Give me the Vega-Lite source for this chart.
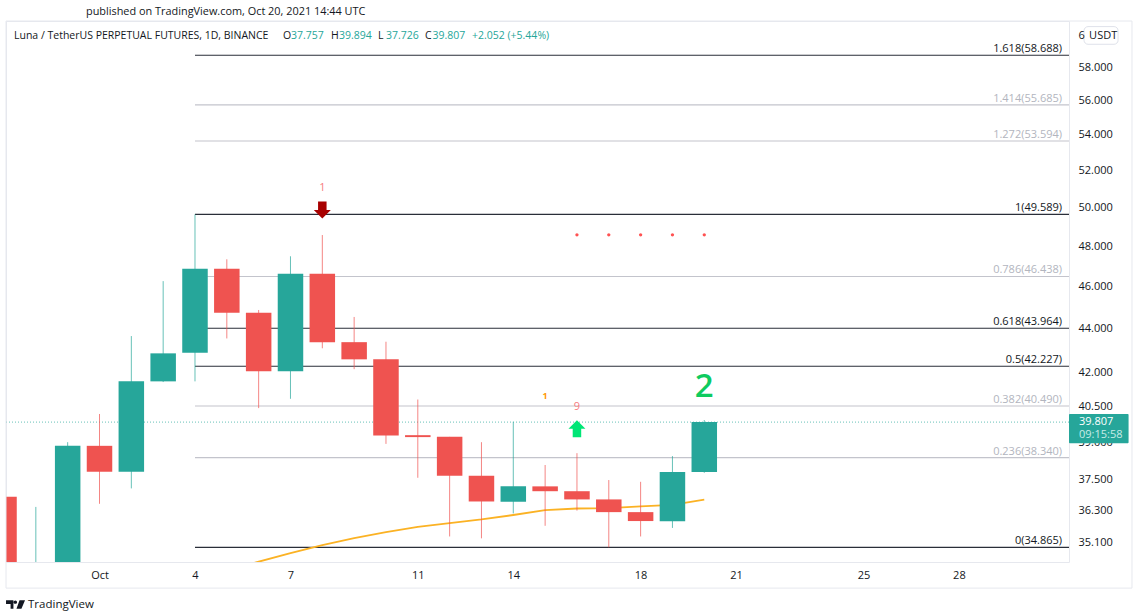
{
"$schema":"https://vega.github.io/schema/vega-lite/v6.json",
"width":1063,"height":541,
"autosize":{"type":"none"},
"padding":{"left":6,"top":21,"right":67,"bottom":52},
"background":"#ffffff",
"title":{"text":"published on TradingView.com, Oct 20, 2021 14:44 UTC","anchor":"start","frame":"group","dx":80,"offset":4,"fontSize":10.9,"fontWeight":"normal","color":"#131722","font":"Open Sans"},
"config":{"font":"Open Sans","view":{"stroke":"#e6e8ee","strokeWidth":1}},
"datasets":{
"candles":[
{"date":"2021-09-28T00:00:00Z","open":36.78,"close":33.9,"high":36.78,"low":33.5,"dir":"down"},
{"date":"2021-09-29T00:00:00Z","open":33.9,"close":34.2,"high":36.39,"low":33.5,"dir":"up"},
{"date":"2021-09-30T00:00:00Z","open":34.2,"close":38.82,"high":38.97,"low":34.0,"dir":"up"},
{"date":"2021-10-01T00:00:00Z","open":38.82,"close":37.77,"high":40.15,"low":36.51,"dir":"down"},
{"date":"2021-10-02T00:00:00Z","open":37.77,"close":41.56,"high":43.6,"low":37.11,"dir":"up"},
{"date":"2021-10-03T00:00:00Z","open":41.56,"close":42.81,"high":46.21,"low":41.53,"dir":"up"},
{"date":"2021-10-04T00:00:00Z","open":42.84,"close":46.82,"high":49.589,"low":41.56,"dir":"up"},
{"date":"2021-10-05T00:00:00Z","open":46.82,"close":44.69,"high":47.29,"low":43.49,"dir":"down"},
{"date":"2021-10-06T00:00:00Z","open":44.69,"close":42.01,"high":44.82,"low":40.4,"dir":"down"},
{"date":"2021-10-07T00:00:00Z","open":42.01,"close":46.57,"high":47.44,"low":40.8,"dir":"up"},
{"date":"2021-10-08T00:00:00Z","open":46.57,"close":43.32,"high":48.52,"low":43.04,"dir":"down"},
{"date":"2021-10-09T00:00:00Z","open":43.32,"close":42.54,"high":44.49,"low":42.1,"dir":"down"},
{"date":"2021-10-10T00:00:00Z","open":42.54,"close":39.25,"high":43.34,"low":38.9,"dir":"down"},
{"date":"2021-10-11T00:00:00Z","open":39.26,"close":39.18,"high":40.77,"low":37.53,"dir":"down"},
{"date":"2021-10-12T00:00:00Z","open":39.19,"close":37.61,"high":39.19,"low":35.27,"dir":"down"},
{"date":"2021-10-13T00:00:00Z","open":37.61,"close":36.6,"high":38.97,"low":35.2,"dir":"down"},
{"date":"2021-10-14T00:00:00Z","open":36.59,"close":37.19,"high":39.82,"low":36.14,"dir":"up"},
{"date":"2021-10-15T00:00:00Z","open":37.19,"close":37.0,"high":38.04,"low":35.67,"dir":"down"},
{"date":"2021-10-16T00:00:00Z","open":37.0,"close":36.68,"high":38.52,"low":36.25,"dir":"down"},
{"date":"2021-10-17T00:00:00Z","open":36.68,"close":36.19,"high":37.44,"low":34.865,"dir":"down"},
{"date":"2021-10-18T00:00:00Z","open":36.19,"close":35.85,"high":37.37,"low":35.27,"dir":"down"},
{"date":"2021-10-19T00:00:00Z","open":35.84,"close":37.757,"high":38.4,"low":35.59,"dir":"up"},
{"date":"2021-10-20T00:00:00Z","open":37.757,"close":39.807,"high":39.894,"low":37.726,"dir":"up"}
],
"ma":[
{"date":"2021-10-05T00:00:00Z","price":34.04},
{"date":"2021-10-06T00:00:00Z","price":34.34},
{"date":"2021-10-07T00:00:00Z","price":34.65},
{"date":"2021-10-08T00:00:00Z","price":34.95},
{"date":"2021-10-09T00:00:00Z","price":35.21},
{"date":"2021-10-10T00:00:00Z","price":35.43},
{"date":"2021-10-11T00:00:00Z","price":35.63},
{"date":"2021-10-12T00:00:00Z","price":35.77},
{"date":"2021-10-13T00:00:00Z","price":35.91},
{"date":"2021-10-14T00:00:00Z","price":36.08},
{"date":"2021-10-15T00:00:00Z","price":36.27},
{"date":"2021-10-16T00:00:00Z","price":36.33},
{"date":"2021-10-17T00:00:00Z","price":36.34},
{"date":"2021-10-18T00:00:00Z","price":36.41},
{"date":"2021-10-19T00:00:00Z","price":36.47},
{"date":"2021-10-20T00:00:00Z","price":36.67}
],
"fib":[
{"date":"2021-10-04T00:00:00Z","to":"2021-10-31T11:00:00Z","price":58.688,"label":"1.618(58.688)","tier":"major"},
{"date":"2021-10-04T00:00:00Z","to":"2021-10-31T11:00:00Z","price":55.685,"label":"1.414(55.685)","tier":"minor"},
{"date":"2021-10-04T00:00:00Z","to":"2021-10-31T11:00:00Z","price":53.594,"label":"1.272(53.594)","tier":"minor"},
{"date":"2021-10-04T00:00:00Z","to":"2021-10-31T11:00:00Z","price":49.589,"label":"1(49.589)","tier":"major"},
{"date":"2021-10-04T00:00:00Z","to":"2021-10-31T11:00:00Z","price":46.438,"label":"0.786(46.438)","tier":"minor"},
{"date":"2021-10-04T00:00:00Z","to":"2021-10-31T11:00:00Z","price":43.964,"label":"0.618(43.964)","tier":"major"},
{"date":"2021-10-04T00:00:00Z","to":"2021-10-31T11:00:00Z","price":42.227,"label":"0.5(42.227)","tier":"major"},
{"date":"2021-10-04T00:00:00Z","to":"2021-10-31T11:00:00Z","price":40.49,"label":"0.382(40.490)","tier":"minor"},
{"date":"2021-10-04T00:00:00Z","to":"2021-10-31T11:00:00Z","price":38.34,"label":"0.236(38.340)","tier":"minor"},
{"date":"2021-10-04T00:00:00Z","to":"2021-10-31T11:00:00Z","price":34.865,"label":"0(34.865)","tier":"major"}
],
"header":[
{"date":"2021-09-28T07:30:00Z","price":59.96,"text":"Luna / TetherUS PERPETUAL FUTURES, 1D, BINANCE","kind":"label"},
{"date":"2021-10-06T18:22:00Z","price":59.96,"text":"O","kind":"label"},
{"date":"2021-10-07T00:23:00Z","price":59.96,"text":"37.757","kind":"value"},
{"date":"2021-10-08T06:33:00Z","price":59.96,"text":"H","kind":"label"},
{"date":"2021-10-08T12:34:00Z","price":59.96,"text":"39.894","kind":"value"},
{"date":"2021-10-09T17:58:00Z","price":59.96,"text":"L","kind":"label"},
{"date":"2021-10-10T00:00:00Z","price":59.96,"text":"37.726","kind":"value"},
{"date":"2021-10-11T05:25:00Z","price":59.96,"text":"C","kind":"label"},
{"date":"2021-10-11T11:05:00Z","price":59.96,"text":"39.807","kind":"value"},
{"date":"2021-10-12T16:52:00Z","price":59.96,"text":"+2.052 (+5.44%)","kind":"value"}
],
"corner":[
{"date":"2021-10-31T18:14:00Z","price":59.96,"text":"6"},
{"date":"2021-11-01T02:10:00Z","price":59.96,"text":"USDT"}
],
"dots":[
{"date":"2021-10-16T00:00:00Z","price":48.53},
{"date":"2021-10-17T00:00:00Z","price":48.53},
{"date":"2021-10-18T00:00:00Z","price":48.53},
{"date":"2021-10-19T00:00:00Z","price":48.53},
{"date":"2021-10-20T00:00:00Z","price":48.53}
]
},
"resolve":{"scale":{"color":"independent"}},
"layer":[
{"data":{"name":"fib"},
 "mark":{"type":"rule","strokeWidth":1.1},
 "encoding":{
  "x":{"field":"date","type":"temporal","title":null,
   "scale":{"type":"utc","domain":["2021-09-28T01:30:00Z","2021-10-31T11:00:00Z"],"nice":false,"padding":0},
   "axis":{"orient":"bottom","domain":false,"ticks":false,"grid":false,"labelPadding":7,"labelFontSize":11,"labelColor":"#131722","labelFont":"Open Sans","labelOverlap":false,"labelBound":false,"labelFlush":false,
    "values":["2021-10-01T00:00:00Z","2021-10-04T00:00:00Z","2021-10-07T00:00:00Z","2021-10-11T00:00:00Z","2021-10-14T00:00:00Z","2021-10-18T00:00:00Z","2021-10-21T00:00:00Z","2021-10-25T00:00:00Z","2021-10-28T00:00:00Z"],
    "labelExpr":"utcdate(datum.value)==1 ? 'Oct' : ''+utcdate(datum.value)"}},
  "x2":{"field":"to"},
  "y":{"field":"price","type":"quantitative","title":null,
   "scale":{"type":"log","domain":[34.33,60.85],"nice":false,"zero":false},
   "axis":{"orient":"right","domain":false,"ticks":false,"grid":false,"labelPadding":9,"labelOffset":1,"labelFontSize":11,"labelColor":"#131722","labelFont":"Open Sans","labelOverlap":false,"labelBound":false,"labelFlush":false,"format":".3f",
    "values":[35.1,36.3,37.5,39,40.5,42,44,46,48,50,52,54,56,58]}},
  "color":{"field":"tier","type":"nominal","legend":null,"scale":{"domain":["major","minor"],"range":["#2a2e39","#c3c4cc"]}}
 }},
{"data":{"name":"fib"},
 "mark":{"type":"text","align":"right","baseline":"bottom","dx":-7,"dy":-1,"fontSize":11},
 "encoding":{
  "x":{"field":"to","type":"temporal"},
  "y":{"field":"price","type":"quantitative"},
  "text":{"field":"label"},
  "color":{"field":"tier","type":"nominal","legend":null,"scale":{"domain":["major","minor"],"range":["#131722","#b2b5be"]}}
 }},
{"data":{"values":[{"date":"2021-09-28T01:30:00Z","to":"2021-10-31T11:00:00Z","price":39.807}]},
 "mark":{"type":"rule","strokeWidth":1,"strokeDash":[1,2],"color":"#26a69a","opacity":0.7},
 "encoding":{
  "x":{"field":"date","type":"temporal"},
  "x2":{"field":"to"},
  "y":{"field":"price","type":"quantitative"}
 }},
{"data":{"name":"ma"},
 "mark":{"type":"line","color":"#fbb224","strokeWidth":1.8,"clip":true,"interpolate":"linear"},
 "encoding":{
  "x":{"field":"date","type":"temporal"},
  "y":{"field":"price","type":"quantitative"}
 }},
{"data":{"name":"candles"},
 "mark":{"type":"rule","strokeWidth":1,"clip":true,"opacity":0.7},
 "encoding":{
  "x":{"field":"date","type":"temporal"},
  "y":{"field":"high","type":"quantitative"},
  "y2":{"field":"low"},
  "color":{"field":"dir","type":"nominal","legend":null,"scale":{"domain":["up","down"],"range":["#26a69a","#ef5350"]}}
 }},
{"data":{"name":"candles"},
 "mark":{"type":"bar","size":25.5,"clip":true},
 "encoding":{
  "x":{"field":"date","type":"temporal"},
  "y":{"field":"open","type":"quantitative"},
  "y2":{"field":"close"},
  "color":{"field":"dir","type":"nominal","legend":null,"scale":{"domain":["up","down"],"range":["#26a69a","#ef5350"]}}
 }},
{"data":{"values":[{"date":"2021-10-08T00:00:00Z","price":49.82}]},
 "mark":{"type":"point","filled":true,"color":"#a80000","opacity":1,"size":289,"shape":"M-0.5,-1 L0.5,-1 L0.5,0 L1,0 L0,1 L-1,0 L-0.5,0 Z"},
 "encoding":{
  "x":{"field":"date","type":"temporal"},
  "y":{"field":"price","type":"quantitative"}
 }},
{"data":{"values":[{"date":"2021-10-16T00:00:00Z","price":39.53}]},
 "mark":{"type":"point","filled":true,"color":"#00e676","opacity":1,"size":289,"shape":"M0,-1 L1,0 L0.5,0 L0.5,1 L-0.5,1 L-0.5,0 L-1,0 Z"},
 "encoding":{
  "x":{"field":"date","type":"temporal"},
  "y":{"field":"price","type":"quantitative"}
 }},
{"data":{"values":[{"date":"2021-10-08T00:00:00Z","price":50.98,"text":"1"},{"date":"2021-10-16T00:00:00Z","price":40.46,"text":"9"}]},
 "mark":{"type":"text","fontSize":11,"color":"#f77c80","baseline":"middle"},
 "encoding":{
  "x":{"field":"date","type":"temporal"},
  "y":{"field":"price","type":"quantitative"},
  "text":{"field":"text"}
 }},
{"data":{"values":[{"date":"2021-10-15T00:00:00Z","price":40.93,"text":"1"}]},
 "mark":{"type":"text","fontSize":9,"fontWeight":"bold","color":"#ff9800","baseline":"middle"},
 "encoding":{
  "x":{"field":"date","type":"temporal"},
  "y":{"field":"price","type":"quantitative"},
  "text":{"field":"text"}
 }},
{"data":{"values":[{"date":"2021-10-20T00:00:00Z","price":41.32,"text":"2"}]},
 "mark":{"type":"text","fontSize":33,"fontWeight":600,"color":"#0ecb5f","baseline":"middle"},
 "encoding":{
  "x":{"field":"date","type":"temporal"},
  "y":{"field":"price","type":"quantitative"},
  "text":{"field":"text"}
 }},
{"data":{"name":"dots"},
 "mark":{"type":"circle","size":11,"color":"#ff5252","opacity":1},
 "encoding":{
  "x":{"field":"date","type":"temporal"},
  "y":{"field":"price","type":"quantitative"}
 }},
{"data":{"values":[{"date":"2021-09-28T01:30:00Z","to":"2021-11-02T10:30:00Z","price":60.85,"low":33.395}]},
 "mark":{"type":"rect","fill":null,"fillOpacity":0,"stroke":"#e6e8ee","strokeWidth":1},
 "encoding":{
  "x":{"field":"date","type":"temporal"},
  "x2":{"field":"to"},
  "y":{"field":"price","type":"quantitative"},
  "y2":{"field":"low"}
 }},
{"data":{"values":[{"date":"2021-10-31T11:00:00Z","to":"2021-11-02T07:55:00Z","price":40.15,"low":38.93}]},
 "mark":{"type":"rect","color":"#26a69a","opacity":1,"cornerRadius":1},
 "encoding":{
  "x":{"field":"date","type":"temporal"},
  "x2":{"field":"to"},
  "y":{"field":"price","type":"quantitative"},
  "y2":{"field":"low"}
 }},
{"data":{"values":[{"date":"2021-10-31T22:20:00Z","to":"2021-11-02T00:00:00Z","price":60.49,"low":59.37}]},
 "mark":{"type":"rect","fill":"#ffffff","stroke":"#dfe2ea","strokeWidth":1,"cornerRadius":4,"opacity":1},
 "encoding":{
  "x":{"field":"date","type":"temporal"},
  "x2":{"field":"to"},
  "y":{"field":"price","type":"quantitative"},
  "y2":{"field":"low"}
 }},
{"data":{"values":[{"date":"2021-10-31T18:30:00Z","price":39.807,"text":"39.807"}]},
 "mark":{"type":"text","align":"left","baseline":"middle","fontSize":11,"color":"#ffffff"},
 "encoding":{
  "x":{"field":"date","type":"temporal"},
  "y":{"field":"price","type":"quantitative"},
  "text":{"field":"text"}
 }},
{"data":{"values":[{"date":"2021-10-31T18:30:00Z","price":39.26,"text":"09:15:58"}]},
 "mark":{"type":"text","align":"left","baseline":"middle","fontSize":11,"color":"#c8ebe7"},
 "encoding":{
  "x":{"field":"date","type":"temporal"},
  "y":{"field":"price","type":"quantitative"},
  "text":{"field":"text"}
 }},
{"data":{"name":"header"},
 "mark":{"type":"text","align":"left","baseline":"middle","fontSize":10.5,"dy":1.5},
 "encoding":{
  "x":{"field":"date","type":"temporal"},
  "y":{"field":"price","type":"quantitative"},
  "text":{"field":"text"},
  "color":{"field":"kind","type":"nominal","legend":null,"scale":{"domain":["label","value"],"range":["#131722","#26a69a"]}}
 }},
{"data":{"name":"corner"},
 "mark":{"type":"text","align":"left","baseline":"middle","fontSize":11,"dy":1,"color":"#131722"},
 "encoding":{
  "x":{"field":"date","type":"temporal"},
  "y":{"field":"price","type":"quantitative"},
  "text":{"field":"text"}
 }},
{"data":{"values":[{"date":"2021-09-28T18:06:00Z","price":32.8,"text":"TradingView"}]},
 "mark":{"type":"text","align":"left","baseline":"middle","fontSize":11.5,"color":"#131722"},
 "encoding":{
  "x":{"field":"date","type":"temporal"},
  "y":{"field":"price","type":"quantitative"},
  "text":{"field":"text"}
 }},
{"data":{"values":[{"date":"2021-09-28T08:41:00Z","price":32.82}]},
 "mark":{"type":"point","filled":true,"color":"#131722","opacity":1,"size":361,"shape":"M-1,-0.45 L-0.22,-0.45 L-0.22,0.45 L-0.52,0.45 L-0.52,-0.05 L-1,-0.05 Z M-0.2,-0.25 A0.18,0.18 0 1 1 0.16,-0.25 A0.18,0.18 0 1 1 -0.2,-0.25 Z M0.42,-0.45 L1,-0.45 L0.62,0.45 L0.1,0.45 Z"},
 "encoding":{
  "x":{"field":"date","type":"temporal"},
  "y":{"field":"price","type":"quantitative"}
 }}
]
}
